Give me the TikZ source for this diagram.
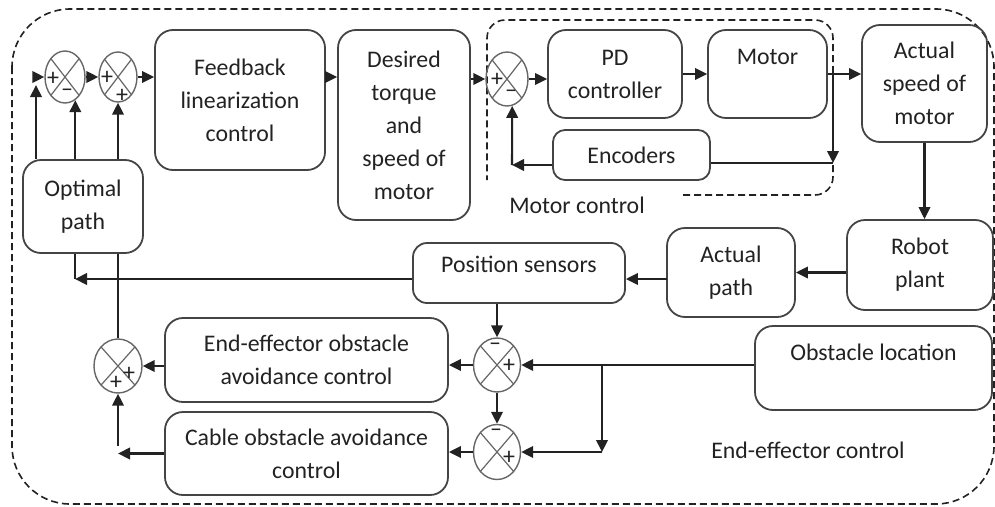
\documentclass[tikz,border=0pt]{standalone}
\usepackage{fontspec}
\setmainfont{Carlito}
\usetikzlibrary{arrows.meta,shapes.geometric,calc}
\definecolor{edge}{HTML}{444444}
\definecolor{ink}{HTML}{222222}
\definecolor{ring}{HTML}{666666}
\begin{document}
\begin{tikzpicture}[x=1pt,y=-1pt,
  box/.style={draw=edge,line width=1.8pt,rounded corners=18pt,align=center,
    font=\fontsize{23.8}{33}\selectfont,text=ink,inner sep=0pt},
  txt/.style={font=\fontsize{23.8}{33}\selectfont,text=ink,inner sep=0pt,align=center},
  sum/.style={ellipse,draw=ring,line width=1.4pt,inner sep=0pt,
    path picture={\draw[ring,line width=1.2pt]
      (path picture bounding box.north west) -- (path picture bounding box.south east)
      (path picture bounding box.north east) -- (path picture bounding box.south west);}},
  sgn/.style={font=\fontsize{24}{24}\selectfont,text=ink,inner sep=0pt},
  ln/.style={line width=2.1pt,draw=ink},
  arr/.style={ln,-{Triangle[length=12pt,width=11.5pt]}},
  frame/.style={draw=ink,line width=1.6pt,dash pattern=on 7pt off 4pt}
]
\useasboundingbox (0,0) rectangle (995,506);

% outer dashed region: end-effector control
\draw[frame,rounded corners=58pt] (12,9) rectangle (994,504);
\node[txt] (eelab) at (808,450) {End-effector control};

% inner dashed region: motor control
\draw[frame] (683,195) -- (815,195) arc[start angle=90,end angle=0,radius=18] -- (833,38)
  arc[start angle=0,end angle=-90,radius=18] -- (505,20)
  arc[start angle=-90,end angle=-180,radius=18] -- (487,180);
\node[txt] (mclab) at (577,205) {Motor control};

% blocks
\node[box,minimum width=170pt,minimum height=140pt] (fb)  at (240,100) {Feedback\\linearization\\control};
\node[box,minimum width=132pt,minimum height=190pt] (des) at (404,125) {Desired\\torque\\and\\speed of\\motor};
\node[box,minimum width=134pt,minimum height=88pt]  (pd)  at (615,74)  {PD\\controller};
\node[box,minimum width=119pt,minimum height=88pt]  (mot) at (767.5,74) {};
\node[txt] (mott) at (767.5,57) {Motor};
\node[box,minimum width=157pt,minimum height=50pt,rounded corners=12pt] (enc) at (631.5,155) {Encoders};
\node[box,minimum width=125pt,minimum height=117pt] (act) at (924.5,83.5) {Actual\\speed of\\motor};
\node[box,minimum width=146pt,minimum height=90pt]  (rob) at (920,265) {Robot\\plant};
\node[box,minimum width=128pt,minimum height=89pt]  (apath) at (731,272.5) {Actual\\path};
\node[box,minimum width=212pt,minimum height=60pt,rounded corners=14pt] (pos) at (519,273) {};
\node[txt] (post) at (519,264) {Position sensors};
\node[box,minimum width=120pt,minimum height=93pt]  (opt) at (83,206.5) {Optimal\\path};
\node[box,minimum width=283pt,minimum height=84pt]  (ee)  at (306.5,360) {End-effector obstacle\\avoidance control};
\node[box,minimum width=283pt,minimum height=83pt]  (cab) at (306.5,453.5) {Cable obstacle avoidance\\control};
\node[box,minimum width=237pt,minimum height=84pt]  (obs) at (873.5,368) {};
\node[txt] (obst) at (873.5,352) {Obstacle location};

% summing junctions
\node[sum,minimum width=40pt,minimum height=52pt] (c1) at (65,77) {};
\node[sum,minimum width=38pt,minimum height=50pt] (c2) at (118,77) {};
\node[sum,minimum width=42pt,minimum height=54pt] (c3) at (507,79) {};
\node[sum,minimum width=48pt,minimum height=54pt] (c4) at (118,366) {};
\node[sum,minimum width=47pt,minimum height=54pt] (c5) at (497,365) {};
\node[sum,minimum width=47pt,minimum height=55pt] (c6) at (497,452) {};

% signs
\node[sgn] (s1a) at (53,79) {+};
\node[sgn] (s1b) at (67,93) {–};
\node[sgn] (s2a) at (107,78) {+};
\node[sgn] (s2b) at (122,96) {+};
\node[sgn] (s3a) at (497,80) {+};
\node[sgn] (s3b) at (511,94) {–};
\node[sgn] (s4a) at (129,374) {+};
\node[sgn] (s4b) at (116,383) {+};
\node[sgn] (s5a) at (495,347) {–};
\node[sgn] (s5b) at (509,366) {+};
\node[sgn] (s6a) at (496,433) {–};
\node[sgn] (s6b) at (509,458) {+};

% forward path
\coordinate (k1) at (36,77);
\draw[arr] (opt.north -| k1) -- ([yshift=-8pt]k1);
\draw[arr] (k1) -- (c1.west);
\draw[arr] (opt.north -| c1.-66) -- (c1.-66);
\draw[arr] (opt.north -| c2.south) -- (c2.south);
\draw[arr] (c1.east) -- (c2.west);
\draw[arr] (c2.east) -- (c2.east -| fb.west);
\draw[arr] (fb.east |- c2.east) -- (des.west |- c2.east);
\draw[arr] (des.east |- c3.west) -- (c3.west);
\draw[arr] (c3.east) -- (c3.east -| pd.west);
\draw[arr] (pd.east) -- (mot.west);
\draw[arr] (mot.east) -- (mot.east -| act.west);

% motor feedback loop
\coordinate (br) at (833,74);
\coordinate (e1) at (833,163);
\coordinate (e2) at (512,165);
\draw[arr] (br) -- (e1);
\draw[ln] (enc.east |- e1) -- (e1);
\draw[arr] (enc.west |- e2) -- (e2);
\draw[arr] (e2) -- (c3.-79);

% plant and sensing
\draw[arr] (act.south) -- (act.south |- rob.north);
\draw[arr] (rob.west |- apath.east) -- (apath.east);
\coordinate (p1) at (667,279);
\draw[arr] (p1) -- (p1 -| pos.east);
\coordinate (p2) at (75,279);
\draw[arr] (pos.west |- p2) -- (p2);
\draw[ln] (p2) -- (p2 |- opt.south);

% obstacle avoidance
\draw[ln] (opt.south -| c4.north) -- (c4.north);
\draw[arr] (ee.west |- c4.east) -- (c4.east);
\coordinate (q1) at (cab.west -| c4.south);
\draw[arr] (cab.west) -- (q1);
\draw[arr] ([yshift=8pt]q1) -- (c4.south);
\draw[arr] (pos.south -| c5.north) -- (c5.north);
\draw[arr] (c5.west) -- (c5.west -| ee.east);
\draw[arr] (c5.south) -- (c6.north);
\draw[arr] (c6.west) -- (c6.west -| cab.east);
\draw[arr] (obs.west |- c5.east) -- (c5.east);
\coordinate (o1) at (602,365);
\draw[arr] (o1) -- (o1 |- c6.east);
\draw[arr] (o1 |- c6.east) -- (c6.east);
\end{tikzpicture}
\end{document}
